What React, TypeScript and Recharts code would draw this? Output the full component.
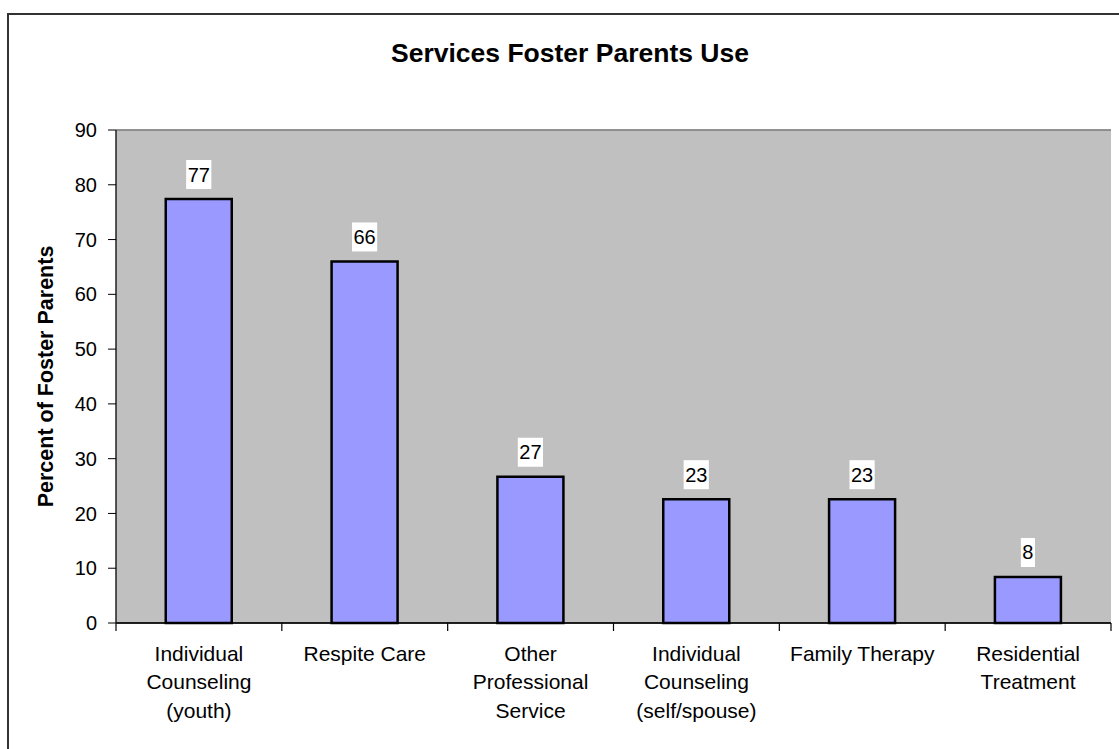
import React from "react";
import {
  BarChart,
  Bar,
  XAxis,
  YAxis,
  CartesianGrid,
  LabelList,
  ReferenceLine,
} from "recharts";

const categories = [
  "Individual Counseling (youth)",
  "Respite Care",
  "Other Professional Service",
  "Individual Counseling (self/spouse)",
  "Family Therapy",
  "Residential Treatment",
];
const categoryLines = [
  ["Individual", "Counseling", "(youth)"],
  ["Respite Care"],
  ["Other", "Professional", "Service"],
  ["Individual", "Counseling", "(self/spouse)"],
  ["Family Therapy"],
  ["Residential", "Treatment"],
];
const percentValues = [77.4, 66.0, 26.7, 22.6, 22.6, 8.4];
const yTicks = [0, 10, 20, 30, 40, 50, 60, 70, 80, 90];

const data = categories.map((c, i) => ({ name: c, idx: i, value: percentValues[i] }));

const FONT = "'Liberation Sans', Arial, Helvetica, sans-serif";

const CategoryTick = (props: any) => {
  const { x, y, payload, index, visibleTicksCount } = props;
  const lines = categoryLines[payload.index ?? index] || [payload.value];
  const half = payload.offset || 0;
  const isLast = (payload.index ?? index) === (visibleTicksCount ?? categories.length) - 1;
  return (
    <g>
      <line x1={x - half} x2={x - half} y1={y - 8} y2={y} stroke="#000" strokeWidth={1.2} />
      {isLast && (
        <line x1={x + half} x2={x + half} y1={y - 8} y2={y} stroke="#000" strokeWidth={1.2} />
      )}
      {lines.map((ln: string, i: number) => (
        <text
          key={i}
          x={x}
          y={y + 30 + i * 28.3}
          textAnchor="middle"
          fontSize={21}
          fontFamily={FONT}
          fill="#000"
        >
          {ln}
        </text>
      ))}
    </g>
  );
};

const ValueLabel = (props: any) => {
  const { x, y, width, value } = props;
  const txt = String(Math.round(value));
  const w = txt.length * 11.1 + 3;
  const cx = x + width / 2;
  const bottom = y - 10;
  return (
    <g>
      <rect x={cx - w / 2} y={bottom - 29} width={w} height={29} fill="#fff" />
      <text x={cx} y={bottom - 7.5} textAnchor="middle" fontSize={20} fontFamily={FONT} fill="#000">
        {txt}
      </text>
    </g>
  );
};

export default function App() {
  return (
    <div style={{ position: "absolute", left: 0, top: 0, width: 1119, height: 749, background: "#fff", overflow: "hidden" }}>
      <div
        style={{
          position: "absolute",
          left: 7,
          top: 13,
          width: 1130,
          height: 760,
          borderTop: "2px solid #333",
          borderLeft: "2px solid #333",
        }}
      />
      <div
        style={{
          position: "absolute",
          left: 370,
          width: 400,
          top: 37,
          lineHeight: "32px",
          textAlign: "center",
          fontFamily: FONT,
          fontWeight: "bold",
          fontSize: 26.5,
          color: "#000",
        }}
      >
        Services Foster Parents Use
      </div>
      <div style={{ position: "absolute", left: 0, top: 0 }}>
        <BarChart
          width={1119}
          height={749}
          data={data}
          margin={{ top: 130, right: 8, bottom: 0, left: 0 }}
          barCategoryGap="30%"
        >
          <CartesianGrid vertical={false} fill="#C0C0C0" stroke="#111" fillOpacity={1} />
          <XAxis
            xAxisId="cat"
            dataKey="name"
            type="category"
            interval={0}
            tickSize={8}
            tickMargin={0}
            tickLine={false}
            axisLine={{ stroke: "#000", strokeWidth: 1.5 }}
            tick={<CategoryTick />}
            height={126}
          />
          <YAxis
            yAxisId="l"
            domain={[0, 90]}
            ticks={yTicks}
            interval={0}
            width={116}
            tickSize={8}
            tickMargin={11}
            tickLine={{ stroke: "#000" }}
            axisLine={{ stroke: "#222", strokeWidth: 1.5 }}
            tick={{ fontSize: 20, fontFamily: FONT, fill: "#000" }}
            label={{
              content: (p: any) => {
                const vb = p.viewBox || {};
                const cy = vb.y + vb.height / 2;
                return (
                  <text
                    x={46}
                    y={cy}
                    transform={`rotate(-90, 46, ${cy})`}
                    textAnchor="middle"
                    dominantBaseline="central"
                    fontSize={21.5}
                    fontWeight="bold"
                    fontFamily={FONT}
                    fill="#000"
                  >
                    Percent of Foster Parents
                  </text>
                );
              },
            }}
          />
          <YAxis
            yAxisId="r"
            orientation="right"
            domain={[0, 90]}
            width={0}
            tick={false}
            tickLine={false}
            axisLine={{ stroke: "#808080", strokeWidth: 2 }}
          />
          <ReferenceLine yAxisId="l" xAxisId="cat" y={90} stroke="#999" strokeWidth={1.5} />
          <Bar
            dataKey="value"
            xAxisId="cat"
            yAxisId="l"
            fill="#9999FF"
            stroke="#000"
            strokeWidth={2.5}
            isAnimationActive={false}
          >
            <LabelList dataKey="value" content={<ValueLabel />} />
          </Bar>
        </BarChart>
      </div>
    </div>
  );
}
